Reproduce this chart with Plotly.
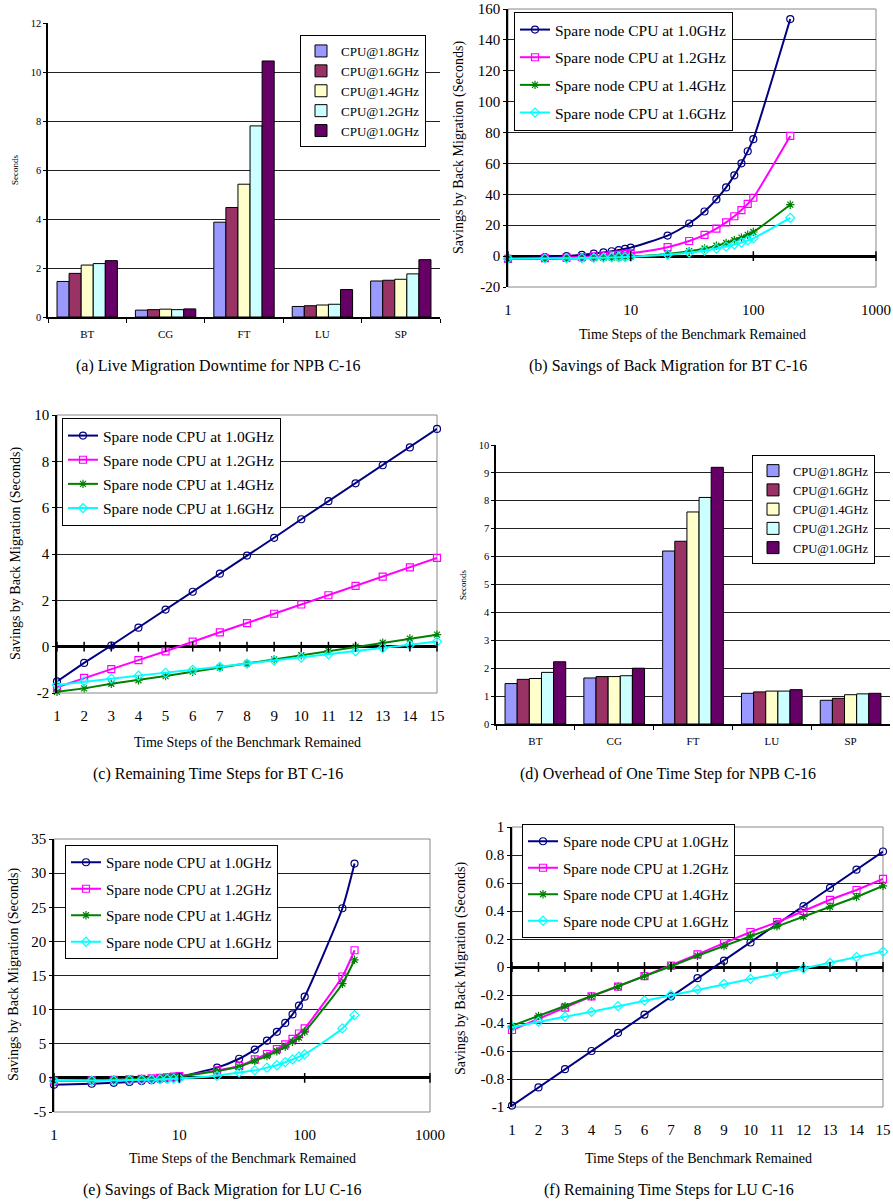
import plotly.graph_objects as go

W, H = 893, 1204
FONT = "Liberation Serif"


def fx(p):
    return p / W


def fy(p):
    return 1 - p / H


# ---------------- data ----------------
benchmarks = ["BT", "CG", "FT", "LU", "SP"]
cpu_labels = ["CPU@1.8GHz", "CPU@1.6GHz", "CPU@1.4GHz", "CPU@1.2GHz", "CPU@1.0GHz"]
bar_colors = ["#9999FF", "#993366", "#FFFFCC", "#CCFFFF", "#660066"]

# (a) live migration downtime (seconds), one list per CPU frequency
downtime_18 = [1.45, 0.28, 3.87, 0.43, 1.47]
downtime_16 = [1.78, 0.30, 4.47, 0.46, 1.50]
downtime_14 = [2.12, 0.32, 5.42, 0.49, 1.54]
downtime_12 = [2.18, 0.30, 7.80, 0.52, 1.76]
downtime_10 = [2.30, 0.33, 10.45, 1.12, 2.34]

# (d) overhead of one time step (seconds)
overhead_18 = [1.45, 1.65, 6.20, 1.10, 0.85]
overhead_16 = [1.60, 1.70, 6.55, 1.15, 0.92]
overhead_14 = [1.63, 1.70, 7.60, 1.18, 1.05]
overhead_12 = [1.85, 1.73, 8.12, 1.18, 1.08]
overhead_10 = [2.23, 2.00, 9.20, 1.23, 1.10]

series_names = ["Spare node CPU at 1.0GHz", "Spare node CPU at 1.2GHz",
                "Spare node CPU at 1.4GHz", "Spare node CPU at 1.6GHz"]
line_colors = ["#000080", "#FF00FF", "#008000", "#00FFFF"]
marker_symbols = ["circle-open", "square-open", "asterisk-open", "diamond-open"]

# (b) BT savings vs remaining steps (log x)
steps_bt_log = [1, 2, 3, 4, 5, 6, 7, 8, 9, 10, 20, 30, 40, 50, 60, 70, 80, 90, 100, 200]
bt_log_10 = [-1.5, -0.7, 0.05, 0.82, 1.6, 2.37, 3.15, 3.93, 4.7, 5.5,
             13.3, 21.1, 28.9, 36.7, 44.5, 52.3, 60.1, 67.9, 75.7, 153.5]
bt_log_12 = [-1.75, -1.35, -0.97, -0.58, -0.2, 0.22, 0.62, 1.02, 1.42, 1.82,
             5.8, 9.8, 13.8, 17.8, 21.8, 25.8, 29.8, 33.8, 37.8, 77.8]
bt_log_14 = [-1.95, -1.8, -1.6, -1.45, -1.27, -1.08, -0.9, -0.73, -0.55, -0.37,
             1.4, 3.2, 4.95, 6.7, 8.5, 10.3, 12.0, 13.8, 15.6, 33.3]
bt_log_16 = [-1.65, -1.5, -1.38, -1.25, -1.13, -1.0, -0.87, -0.73, -0.6, -0.47,
             0.9, 2.2, 3.5, 4.9, 6.2, 7.5, 8.8, 10.2, 11.5, 24.8]

# (c) BT remaining time steps 1..15
steps_lin = list(range(1, 16))
bt_lin_10 = [-1.5, -0.7, 0.05, 0.82, 1.6, 2.37, 3.15, 3.93, 4.7, 5.5, 6.28, 7.05, 7.83, 8.6, 9.4]
bt_lin_12 = [-1.75, -1.35, -0.97, -0.58, -0.2, 0.22, 0.62, 1.02, 1.42, 1.82, 2.22, 2.62, 3.02, 3.42, 3.83]
bt_lin_14 = [-1.95, -1.8, -1.6, -1.45, -1.27, -1.08, -0.9, -0.73, -0.55, -0.37, -0.18, 0.0, 0.17, 0.35, 0.52]
bt_lin_16 = [-1.65, -1.5, -1.38, -1.25, -1.13, -1.0, -0.87, -0.73, -0.6, -0.47, -0.33, -0.2, -0.05, 0.08, 0.22]

# (e) LU savings vs remaining steps (log x)
steps_lu_log = [1, 2, 3, 4, 5, 6, 7, 8, 9, 10, 20, 30, 40, 50, 60, 70, 80, 90, 100, 200, 250]
lu_log_10 = [-0.99, -0.86, -0.73, -0.6, -0.47, -0.34, -0.21, -0.08, 0.045, 0.175,
             1.5, 2.8, 4.15, 5.45, 6.75, 8.05, 9.3, 10.6, 11.9, 24.85, 31.4]
lu_log_12 = [-0.45, -0.37, -0.29, -0.21, -0.14, -0.065, 0.01, 0.09, 0.17, 0.25,
             1.1, 1.75, 2.7, 3.5, 4.2, 4.9, 5.7, 6.5, 7.25, 14.85, 18.7]
lu_log_14 = [-0.42, -0.35, -0.28, -0.21, -0.14, -0.065, 0.005, 0.08, 0.15, 0.22,
             1.0, 1.65, 2.5, 3.2, 3.9, 4.55, 5.3, 5.9, 6.75, 13.8, 17.3]
lu_log_16 = [-0.43, -0.39, -0.355, -0.32, -0.28, -0.24, -0.2, -0.16, -0.12, -0.085,
             0.3, 0.8, 1.1, 1.5, 1.85, 2.3, 2.7, 3.1, 3.45, 7.25, 9.2]

# (f) LU remaining time steps 1..15
lu_lin_10 = [-0.99, -0.86, -0.73, -0.6, -0.47, -0.34, -0.21, -0.08, 0.045, 0.175, 0.305, 0.435, 0.565, 0.695, 0.825]
lu_lin_12 = [-0.45, -0.37, -0.29, -0.21, -0.14, -0.065, 0.01, 0.09, 0.17, 0.25, 0.32, 0.40, 0.48, 0.55, 0.63]
lu_lin_14 = [-0.42, -0.35, -0.28, -0.21, -0.14, -0.065, 0.005, 0.08, 0.15, 0.22, 0.29, 0.36, 0.43, 0.50, 0.58]
lu_lin_16 = [-0.43, -0.39, -0.355, -0.32, -0.28, -0.24, -0.2, -0.16, -0.12, -0.085, -0.05, -0.01, 0.03, 0.07, 0.11]

log_ticks = [1, 10, 100, 1000]
yticks_b = [-20, 0, 20, 40, 60, 80, 100, 120, 140, 160]
yticks_c = [-2, 0, 2, 4, 6, 8, 10]
yticks_e = [-5, 0, 5, 10, 15, 20, 25, 30, 35]
yticks_f = [-1, -0.8, -0.6, -0.4, -0.2, 0, 0.2, 0.4, 0.6, 0.8, 1]

captions = ["(a) Live Migration Downtime for NPB C-16",
            "(b) Savings of Back Migration for BT C-16",
            "(c) Remaining Time Steps for BT C-16",
            "(d) Overhead of One Time Step for NPB C-16",
            "(e) Savings of Back Migration for LU C-16",
            "(f) Remaining Time Steps for LU C-16"]
y_title_line = "Savings by Back Migration (Seconds)"
x_title_line = "Time Steps of the Benchmark Remained"


def fmt(v):
    return "%g" % v  # ASCII hyphen-minus, as in the original


# ---------------- figure ----------------
fig = go.Figure()

# Panel domains in pixels: (left, right, top, bottom)
dom = {
    1: (48, 440, 23, 317),
    2: (508, 876, 9, 287),
    3: (57, 437, 415, 693),
    4: (496, 890, 445, 724),
    5: (54, 430, 839, 1112),
    6: (512, 883, 827, 1107),
}


def ax_names(i):
    return ("x" if i == 1 else f"x{i}"), ("y" if i == 1 else f"y{i}")


def add_bars(i, values_list, legend_name):
    xa, ya = ax_names(i)
    for name, col, vals in zip(cpu_labels, bar_colors, values_list):
        fig.add_trace(go.Bar(x=benchmarks, y=vals, name=name, xaxis=xa, yaxis=ya,
                             marker=dict(color=col, line=dict(color="black", width=1)),
                             legend=legend_name))


def add_lines(i, xs, series, legend_name, shape):
    xa, ya = ax_names(i)
    for k, (name, col, sym, ys) in enumerate(zip(series_names, line_colors, marker_symbols, series)):
        fig.add_trace(go.Scatter(x=xs, y=ys, name=name, xaxis=xa, yaxis=ya, mode="lines+markers",
                                 line=dict(color=col, width=2, shape=shape, smoothing=0.6),
                                 marker=dict(symbol=sym, size=7, color=col, line=dict(width=1.2, color=col)),
                                 legend=legend_name, legendgroup=f"{legend_name}_{k}",
                                 cliponaxis=False))


def add_zero_ticks(i, xs):
    xa, ya = ax_names(i)
    fig.add_trace(go.Scatter(x=xs, y=[0] * len(xs), xaxis=xa, yaxis=ya, mode="markers",
                             marker=dict(symbol="line-ns", size=7, line=dict(width=1.5, color="black")),
                             showlegend=False, hoverinfo="skip", cliponaxis=False))


add_bars(1, [downtime_18, downtime_16, downtime_14, downtime_12, downtime_10], "legend")
add_lines(2, steps_bt_log, [bt_log_10, bt_log_12, bt_log_14, bt_log_16], "legend2", "spline")
add_zero_ticks(2, log_ticks)
add_lines(3, steps_lin, [bt_lin_10, bt_lin_12, bt_lin_14, bt_lin_16], "legend3", "linear")
add_zero_ticks(3, steps_lin)
add_bars(4, [overhead_18, overhead_16, overhead_14, overhead_12, overhead_10], "legend4")
add_lines(5, steps_lu_log, [lu_log_10, lu_log_12, lu_log_14, lu_log_16], "legend5", "spline")
add_zero_ticks(5, log_ticks)
add_lines(6, steps_lin, [lu_lin_10, lu_lin_12, lu_lin_14, lu_lin_16], "legend6", "linear")
add_zero_ticks(6, steps_lin)

layout = dict(
    width=W, height=H, autosize=False,
    margin=dict(l=0, r=0, t=0, b=0, pad=0, autoexpand=False),
    paper_bgcolor="white", plot_bgcolor="white",
    font=dict(family=FONT, color="black"),
    barmode="group", bargap=0.23, bargroupgap=0,
    showlegend=True,
)

grid_col = "#222222"

# bar panels
for i, yr, dt in [(1, [0, 12], 2), (4, [0, 10], 1)]:
    l, r, t, b = dom[i]
    xk = "xaxis" if i == 1 else f"xaxis{i}"
    yk = "yaxis" if i == 1 else f"yaxis{i}"
    xa, ya = ax_names(i)
    layout[xk] = dict(domain=[fx(l), fx(r)], anchor=ya, type="category", automargin=False,
                      showline=True, linecolor="black", linewidth=1.5,
                      ticks="outside", tickson="boundaries", ticklen=4, tickcolor="black",
                      tickfont=dict(size=11), ticklabelstandoff=6, showgrid=False)
    layout[yk] = dict(domain=[fy(b), fy(t)], anchor=xa, range=yr, dtick=dt, automargin=False,
                      showline=True, linecolor="black", linewidth=1.5,
                      ticks="outside", ticklen=3, tickcolor="black",
                      showgrid=True, gridcolor=grid_col, gridwidth=1,
                      zeroline=False, tickfont=dict(size=10.5))

# line panels
line_cfg = {
    2: dict(xtype="log", xr=[0, 3], yr=[-20, 160], yt=yticks_b, xt=log_ticks),
    3: dict(xtype="linear", xr=[1, 15], yr=[-2, 10], yt=yticks_c, xt=steps_lin),
    5: dict(xtype="log", xr=[0, 3], yr=[-5, 35], yt=yticks_e, xt=log_ticks),
    6: dict(xtype="linear", xr=[1, 15], yr=[-1, 1], yt=yticks_f, xt=steps_lin),
}
for i, c in line_cfg.items():
    l, r, t, b = dom[i]
    xa, ya = ax_names(i)
    layout[f"xaxis{i}"] = dict(domain=[fx(l), fx(r)], anchor=ya, type=c["xtype"], range=c["xr"],
                               automargin=False,
                               tickmode="array", tickvals=c["xt"], ticktext=[fmt(v) for v in c["xt"]],
                               showgrid=False, showline=False, zeroline=False,
                               ticks="", tickfont=dict(size=15), ticklabelstandoff=12)
    layout[f"yaxis{i}"] = dict(domain=[fy(b), fy(t)], anchor=xa, range=c["yr"], automargin=False,
                               tickmode="array", tickvals=c["yt"], ticktext=[fmt(v) for v in c["yt"]],
                               showgrid=True, gridcolor=grid_col, gridwidth=1,
                               showline=True, linecolor="black", linewidth=1.5,
                               ticks="outside", ticklen=3, tickcolor="black",
                               zeroline=True, zerolinecolor="black", zerolinewidth=2.5,
                               tickfont=dict(size=15))


# legends (pixel positions of top-left corners)
def legend_cfg(x, y, size, gap, order):
    return dict(x=fx(x), y=fy(y), xanchor="left", yanchor="top", xref="paper", yref="paper",
                bgcolor="white", bordercolor="black", borderwidth=1,
                font=dict(family=FONT, size=size), tracegroupgap=gap, traceorder=order,
                itemwidth=30)


layout["legend"] = legend_cfg(300, 35, 13, 0, "normal")
layout["legend2"] = legend_cfg(514, 12, 15.5, 4.5, "grouped")
layout["legend3"] = legend_cfg(62, 418, 15.5, 1, "grouped")
layout["legend4"] = legend_cfg(752, 455, 12.5, 0, "normal")
layout["legend5"] = legend_cfg(65, 845, 15, 4, "grouped")
layout["legend6"] = legend_cfg(522, 824, 15, 4, "grouped")

fig.update_layout(**layout)

# plot borders for line panels
for i in line_cfg:
    fig.add_shape(type="rect", xref=f"x{i} domain", yref=f"y{i} domain", x0=0, x1=1, y0=0, y1=1,
                  line=dict(color="#888888", width=1), layer="below")

annos = []
# captions
for txt, cx, cy in zip(captions, [218, 668, 218, 668, 222, 669], [366, 366, 774, 774, 1190, 1190]):
    annos.append(dict(text=txt, x=fx(cx), y=fy(cy), font=dict(size=16)))
# y titles
annos.append(dict(text="Seconds", x=fx(15), y=fy(170), textangle=-90, font=dict(size=9)))
annos.append(dict(text="Seconds", x=fx(463), y=fy(585), textangle=-90, font=dict(size=9)))
for cx, cy in [(459, 148), (16, 554), (14, 975), (461, 969)]:
    annos.append(dict(text=y_title_line, x=fx(cx), y=fy(cy), textangle=-90, font=dict(size=14)))
# x titles
for cx, cy in [(692, 334), (247, 742), (242, 1158), (698, 1158)]:
    annos.append(dict(text=x_title_line, x=fx(cx), y=fy(cy), font=dict(size=14)))

for a in annos:
    fig.add_annotation(xref="paper", yref="paper", showarrow=False, xanchor="center", yanchor="middle",
                       font_family=FONT, font_color="black", **a)

post = ("document.documentElement.style.margin='0px';document.documentElement.style.overflow='hidden';"
        "document.body.style.margin='0px';document.body.style.overflow='hidden';")

fig.write_html("out.html", config={"displayModeBar": False}, post_script=post)
